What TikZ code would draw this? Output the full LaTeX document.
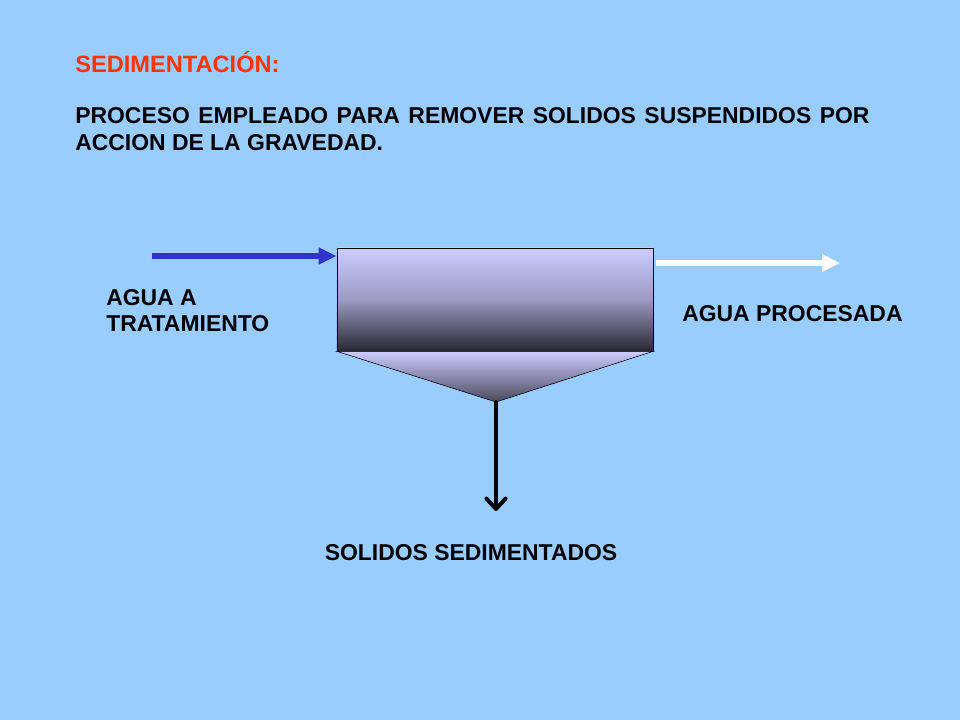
\documentclass[tikz,border=0pt]{standalone}
\usepackage{fontspec}
\setmainfont{Liberation Sans}
\usetikzlibrary{arrows.meta, positioning}
\definecolor{fondo}{RGB}{153,204,255}
\definecolor{titulo}{RGB}{255,51,0}
\definecolor{lavanda}{RGB}{204,204,255}
\definecolor{oscuro}{RGB}{40,40,52}
\definecolor{azul}{RGB}{51,51,204}
\tikzstyle{txt} = [inner sep=0, font=\bfseries\fontsize{16.3}{19.1}\selectfont]
\tikzstyle{tank} = [rectangle, draw=black, minimum width=7.9cm, minimum height=2.575cm, top color=lavanda, bottom color=oscuro, middle color=lavanda!70!oscuro]
\tikzstyle{arrowin} = [line width=1.3mm, azul, -{Triangle[length=4.5mm,width=4mm]}]
\tikzstyle{arrowout} = [line width=1.3mm, white, -{Triangle[length=4.5mm,width=4.2mm]}]
\tikzstyle{arrowdown} = [line width=1mm, black, line cap=round, -{Straight Barb[length=2.6mm,width=4.8mm,round]}]

\begin{document}
\begin{tikzpicture}[x=0.025cm, y=0.025cm]
				\fill [fondo] (0,0) rectangle (960,720);
				\node (title) [txt, titulo, anchor=base west, font=\bfseries\fontsize{16.8}{19.1}\selectfont] at (75,647) {SEDIMENTACIÓN:};
				\node (def) [txt, anchor=base west, text width=19.85cm, align=justify] at (75,596.5)
					{PROCESO EMPLEADO PARA REMOVER SOLIDOS SUSPENDIDOS POR\linebreak ACCION DE LA GRAVEDAD.};
				\node (tanque) [tank] at (495,420.5) {};
				\coordinate (tolva) at (496,318);
				\shade [draw=black, top color=lavanda, bottom color=oscuro!80!lavanda] (tanque.south west) -- (tanque.south east) -- (tolva) -- cycle;
				\coordinate (entrada) at (152,464);
				\draw [arrowin] (entrada) -- (entrada -| tanque.west);
				\coordinate (salida) at (656,457);
				\coordinate (fin) at (840,457);
				\draw [arrowout] (salida) -- (fin);
				\coordinate (lodos) at (496,209);
				\draw [arrowdown] (tolva) -- (lodos);
				\node (agua_in) [txt, anchor=base west, align=left] at (106,388) {AGUA A\\TRATAMIENTO};
				\node (agua_out) [txt, anchor=base west] at (682,398) {AGUA PROCESADA};
				\node (solidos) [txt, anchor=base] at (471,159) {SOLIDOS SEDIMENTADOS};
			\end{tikzpicture}
\end{document}
